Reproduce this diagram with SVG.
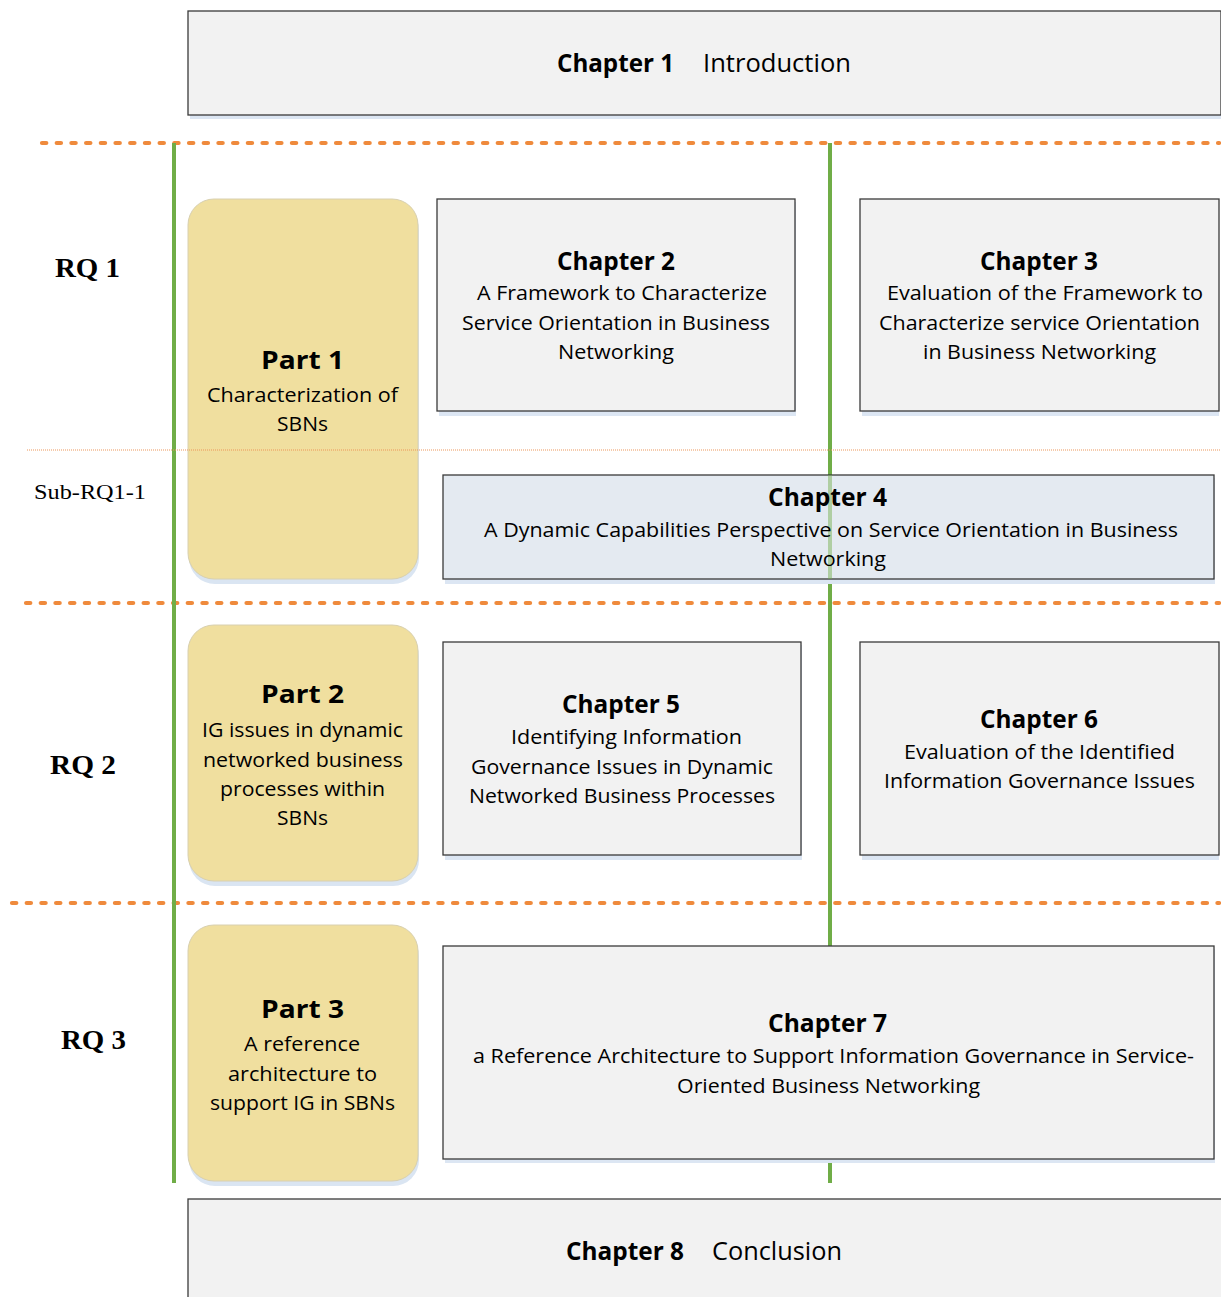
<svg xmlns="http://www.w3.org/2000/svg" width="1221" height="1297" viewBox="0 0 1221 1297">
  <style>
    .box { fill: #f2f2f2; stroke: #3a3a3a; stroke-width: 1.3; }
    .box4 { fill: #e4eaf1; stroke: #3a3a3a; stroke-width: 1.3; }
    .shadow { fill: #dce6f3; }
    .part { fill: #f0df9f; stroke: #d8d0b0; stroke-width: 1; }
    .partShadow { fill: #dae5f2; }
    .sep { fill: none; stroke: #ef8a3c; stroke-width: 4.2; stroke-linecap: round; stroke-dasharray: 4.3 10.4; }
    .thin { fill: none; stroke: #ec9558; stroke-width: 1; stroke-dasharray: 1 1; }
    .green { fill: none; stroke: #70ad47; stroke-width: 4; }
    .title { font-family: "Open Sans", "Noto Sans", sans-serif; font-weight: 700; font-size: 25px; fill: #000; text-anchor: middle; }
    .body { font-family: "Open Sans", "Noto Sans", sans-serif; font-size: 19.5px; fill: #000; text-anchor: middle; }
    .headB { font-family: "Open Sans", "Noto Sans", sans-serif; font-weight: 700; font-size: 25px; fill: #000; }
    .headR { font-family: "Open Sans", "Noto Sans", sans-serif; font-size: 25px; fill: #000; }
    .rq { font-family: "Liberation Serif", "Times New Roman", serif; font-weight: 700; font-size: 28px; fill: #000; }
    .sub { font-family: "Liberation Serif", "Times New Roman", serif; font-size: 22px; fill: #000; }
  </style>

  <rect width="1221" height="1297" fill="#ffffff"/>

  <!-- Chapter 1 banner -->
  <g id="chapter1">
    <rect class="shadow" x="190" y="14" width="1031" height="105"/>
    <rect class="box" x="188" y="11" width="1033" height="104"/>
    <text class="headB" x="557" y="72" textLength="117" lengthAdjust="spacingAndGlyphs">Chapter 1</text>
    <text class="headR" x="703" y="72" textLength="148" lengthAdjust="spacingAndGlyphs">Introduction</text>
  </g>

  <!-- section separators -->
  <g id="separators">
    <line class="sep" x1="42" y1="143" x2="1219" y2="143"/>
    <line class="sep" x1="26" y1="603" x2="1219" y2="603"/>
    <line class="sep" x1="12" y1="903" x2="1219" y2="903"/>
  </g>

  <!-- research question labels -->
  <g id="labels">
    <text class="rq" x="55" y="277" textLength="65" lengthAdjust="spacingAndGlyphs">RQ 1</text>
    <text class="sub" x="34" y="499" textLength="112" lengthAdjust="spacingAndGlyphs">Sub-RQ1-1</text>
    <text class="rq" x="50" y="774" textLength="66" lengthAdjust="spacingAndGlyphs">RQ 2</text>
    <text class="rq" x="61" y="1049" textLength="65" lengthAdjust="spacingAndGlyphs">RQ 3</text>
  </g>

  <!-- vertical flow lines -->
  <g id="connectors">
    <line class="green" x1="174" y1="143" x2="174" y2="1183"/>
    <line class="green" x1="830" y1="143" x2="830" y2="1183"/>
  </g>

  <!-- Part 1 -->
  <g id="part1">
    <rect class="partShadow" x="189" y="204" width="230" height="380" rx="26"/>
    <rect class="part" x="188" y="199" width="230" height="380" rx="26"/>
    <text class="title" x="302.5" y="369" textLength="83" lengthAdjust="spacingAndGlyphs">Part 1</text>
    <text class="body" x="302.5" y="402" textLength="191" lengthAdjust="spacingAndGlyphs">Characterization of</text>
    <text class="body" x="302.5" y="431" textLength="51" lengthAdjust="spacingAndGlyphs">SBNs</text>
  </g>

  <!-- sub-question divider, drawn over Part 1 -->
  <g id="subDivider">
    <line class="thin" x1="27" y1="450" x2="1221" y2="450"/>
  </g>

  <!-- Chapter 2 -->
  <g id="chapter2">
    <rect class="shadow" x="439" y="202" width="357" height="214"/>
    <rect class="box" x="437" y="199" width="358" height="212"/>
    <text class="title" x="616" y="270" textLength="118" lengthAdjust="spacingAndGlyphs">Chapter 2</text>
    <text class="body" x="622" y="300" textLength="290" lengthAdjust="spacingAndGlyphs">A Framework to Characterize</text>
    <text class="body" x="616" y="330" textLength="308" lengthAdjust="spacingAndGlyphs">Service Orientation in Business</text>
    <text class="body" x="616" y="359" textLength="116" lengthAdjust="spacingAndGlyphs">Networking</text>
  </g>

  <!-- Chapter 3 -->
  <g id="chapter3">
    <rect class="shadow" x="862" y="202" width="357" height="214"/>
    <rect class="box" x="860" y="199" width="359" height="212"/>
    <text class="title" x="1039" y="270" textLength="118" lengthAdjust="spacingAndGlyphs">Chapter 3</text>
    <text class="body" x="1045" y="300" textLength="316" lengthAdjust="spacingAndGlyphs">Evaluation of the Framework to</text>
    <text class="body" x="1039.5" y="330" textLength="321" lengthAdjust="spacingAndGlyphs">Characterize service Orientation</text>
    <text class="body" x="1039.5" y="359" textLength="233" lengthAdjust="spacingAndGlyphs">in Business Networking</text>
  </g>

  <!-- Chapter 4 -->
  <g id="chapter4">
    <rect class="shadow" x="445" y="478" width="770" height="106"/>
    <rect class="box4" x="443" y="475" width="771" height="104"/>
    <line x1="830" y1="475" x2="830" y2="579" stroke="#70ad47" stroke-width="4" opacity="0.45"/>
    <text class="title" x="827.5" y="506" textLength="119" lengthAdjust="spacingAndGlyphs">Chapter 4</text>
    <text class="body" x="831" y="537" textLength="694" lengthAdjust="spacingAndGlyphs">A Dynamic Capabilities Perspective on Service Orientation in Business</text>
    <text class="body" x="828" y="566" textLength="116" lengthAdjust="spacingAndGlyphs">Networking</text>
  </g>

  <!-- Part 2 -->
  <g id="part2">
    <rect class="partShadow" x="189" y="630" width="230" height="256" rx="26"/>
    <rect class="part" x="188" y="625" width="230" height="256" rx="26"/>
    <text class="title" x="302.5" y="703" textLength="83" lengthAdjust="spacingAndGlyphs">Part 2</text>
    <text class="body" x="302.5" y="737" textLength="201" lengthAdjust="spacingAndGlyphs">IG issues in dynamic</text>
    <text class="body" x="303" y="767" textLength="200" lengthAdjust="spacingAndGlyphs">networked business</text>
    <text class="body" x="302.5" y="796" textLength="165" lengthAdjust="spacingAndGlyphs">processes within</text>
    <text class="body" x="302.5" y="825" textLength="51" lengthAdjust="spacingAndGlyphs">SBNs</text>
  </g>

  <!-- Chapter 5 -->
  <g id="chapter5">
    <rect class="shadow" x="445" y="645" width="357" height="215"/>
    <rect class="box" x="443" y="642" width="358" height="213"/>
    <text class="title" x="621" y="713" textLength="118" lengthAdjust="spacingAndGlyphs">Chapter 5</text>
    <text class="body" x="626.5" y="744" textLength="231" lengthAdjust="spacingAndGlyphs">Identifying Information</text>
    <text class="body" x="622" y="774" textLength="302" lengthAdjust="spacingAndGlyphs">Governance Issues in Dynamic</text>
    <text class="body" x="622" y="803" textLength="306" lengthAdjust="spacingAndGlyphs">Networked Business Processes</text>
  </g>

  <!-- Chapter 6 -->
  <g id="chapter6">
    <rect class="shadow" x="862" y="645" width="357" height="215"/>
    <rect class="box" x="860" y="642" width="359" height="213"/>
    <text class="title" x="1039" y="728" textLength="118" lengthAdjust="spacingAndGlyphs">Chapter 6</text>
    <text class="body" x="1039.5" y="759" textLength="271" lengthAdjust="spacingAndGlyphs">Evaluation of the Identified</text>
    <text class="body" x="1039.5" y="788" textLength="311" lengthAdjust="spacingAndGlyphs">Information Governance Issues</text>
  </g>

  <!-- Part 3 -->
  <g id="part3">
    <rect class="partShadow" x="189" y="930" width="230" height="256" rx="26"/>
    <rect class="part" x="188" y="925" width="230" height="256" rx="26"/>
    <text class="title" x="302.5" y="1018" textLength="83" lengthAdjust="spacingAndGlyphs">Part 3</text>
    <text class="body" x="302" y="1051" textLength="116" lengthAdjust="spacingAndGlyphs">A reference</text>
    <text class="body" x="302.5" y="1081" textLength="149" lengthAdjust="spacingAndGlyphs">architecture to</text>
    <text class="body" x="302.5" y="1110" textLength="185" lengthAdjust="spacingAndGlyphs">support IG in SBNs</text>
  </g>

  <!-- Chapter 7 -->
  <g id="chapter7">
    <rect class="shadow" x="445" y="949" width="770" height="214"/>
    <rect class="box" x="443" y="946" width="771" height="213"/>
    <text class="title" x="827.5" y="1032" textLength="119" lengthAdjust="spacingAndGlyphs">Chapter 7</text>
    <text class="body" x="833.5" y="1063" textLength="721" lengthAdjust="spacingAndGlyphs">a Reference Architecture to Support Information Governance in Service-</text>
    <text class="body" x="828.5" y="1093" textLength="303" lengthAdjust="spacingAndGlyphs">Oriented Business Networking</text>
  </g>

  <!-- Chapter 8 banner -->
  <g id="chapter8">
    <rect class="box" x="188" y="1199" width="1040" height="110"/>
    <text class="headB" x="566" y="1260" textLength="118" lengthAdjust="spacingAndGlyphs">Chapter 8</text>
    <text class="headR" x="712" y="1260" textLength="130" lengthAdjust="spacingAndGlyphs">Conclusion</text>
  </g>
</svg>
